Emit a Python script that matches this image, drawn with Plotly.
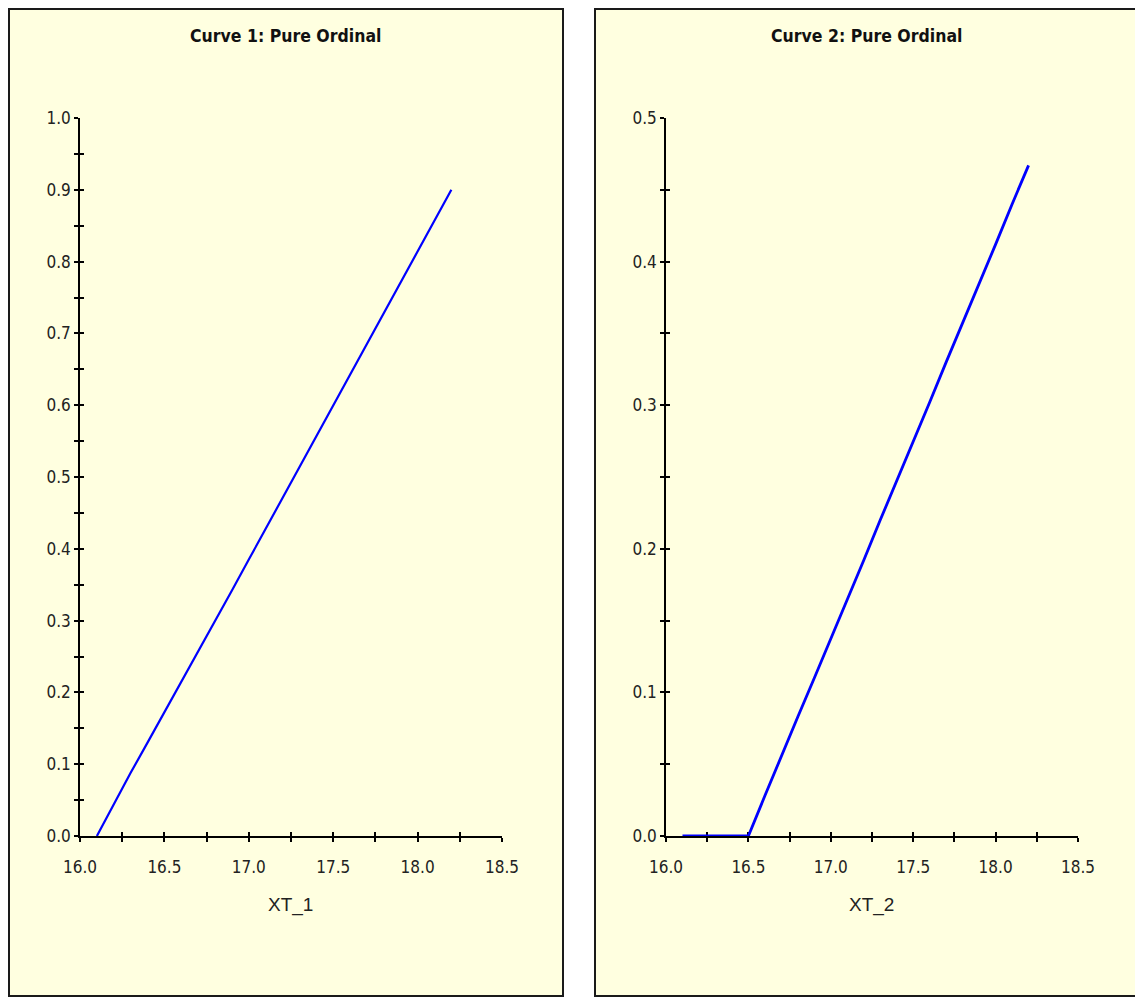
import plotly.graph_objects as go

# ---- data ----
x1 = [16.10, 16.20, 16.30, 16.40, 16.50, 16.60, 16.70, 16.80, 16.90, 17.00, 17.10,
      17.20, 17.30, 17.40, 17.50, 17.60, 17.70, 17.80, 17.90, 18.00, 18.10, 18.20]
y1 = [0.000, 0.045, 0.088, 0.130, 0.172, 0.214, 0.257, 0.299, 0.342, 0.385, 0.428,
      0.470, 0.513, 0.556, 0.599, 0.642, 0.685, 0.728, 0.771, 0.814, 0.857, 0.900]

x2 = [16.10, 16.50, 16.60, 16.70, 16.80, 16.90, 17.00, 17.10, 17.20, 17.30, 17.40,
      17.50, 17.60, 17.70, 17.80, 17.90, 18.00, 18.10, 18.20]
y2 = [0.000, 0.000, 0.028, 0.056, 0.083, 0.110, 0.137, 0.165, 0.192, 0.220, 0.247,
      0.275, 0.302, 0.330, 0.357, 0.385, 0.412, 0.440, 0.467]

titles = ["Curve 1: Pure Ordinal", "Curve 2: Pure Ordinal"]
xtitles = ["XT_1", "XT_2"]
x_range = [16.0, 18.5]
y1_range = [0.0, 1.0]
y2_range = [0.0, 0.5]

# page body margin offsets the figure by 8px
OFF = 8
FW, FH = 1143 - OFF, 999 - OFF
BG = "#FFFFE0"
FONT = "Liberation Sans Narrow, DejaVu Sans Condensed, Liberation Sans, Arial, sans-serif"

def px(x):
    return (x - OFF) / FW

def py(y):
    return (FH - (y - OFF)) / FH

fig = go.Figure()
fig.add_trace(go.Scatter(x=x1, y=y1, mode="lines", line=dict(color="#0000FF", width=2.2),
                         xaxis="x", yaxis="y", showlegend=False, hoverinfo="skip", cliponaxis=False))
fig.add_trace(go.Scatter(x=x2, y=y2, mode="lines", line=dict(color="#0000FF", width=2.8),
                         xaxis="x2", yaxis="y2", showlegend=False, hoverinfo="skip", cliponaxis=False))
# invisible traces on overlay axes (inner halves of crossing ticks)
fig.add_trace(go.Scatter(x=[None], y=[None], xaxis="x3", yaxis="y3", showlegend=False))
fig.add_trace(go.Scatter(x=[None], y=[None], xaxis="x4", yaxis="y4", showlegend=False))

tickfont = dict(family=FONT, size=17, color="#222222")

def main_x(dom, anchor):
    return dict(domain=dom, anchor=anchor, range=x_range, showgrid=False, zeroline=False,
                showline=True, linecolor="#000000", linewidth=1.5, ticks="outside", ticklen=4,
                tickcolor="#000000", tickwidth=1.5, dtick=0.5, tick0=16.0, tickformat=".1f",
                tickfont=tickfont, ticklabelstandoff=11, layer="below traces",
                minor=dict(dtick=0.25, ticks="outside", ticklen=4, tickcolor="#000000", tickwidth=1.5))

def main_y(dom, anchor, rng, dt):
    return dict(domain=dom, anchor=anchor, range=rng, showgrid=False, zeroline=False,
                showline=True, linecolor="#000000", linewidth=1.5, ticks="outside", ticklen=4,
                tickcolor="#000000", tickwidth=1.5, dtick=dt, tick0=0, tickformat=".1f",
                tickfont=tickfont, layer="below traces",
                minor=dict(dtick=dt / 2, ticks="outside", ticklen=4, tickcolor="#000000", tickwidth=1.5))

def over_x(base, anchor):
    return dict(overlaying=base, anchor=anchor, range=x_range, showgrid=False, zeroline=False,
                showline=False, ticks="inside", ticklen=4, tickcolor="#000000", tickwidth=1.5,
                dtick=0.25, tick0=16.0, showticklabels=False, layer="below traces")

def over_y(base, anchor, rng, dt):
    return dict(overlaying=base, anchor=anchor, range=rng, showgrid=False, zeroline=False,
                showline=False, ticks="inside", ticklen=4, tickcolor="#000000", tickwidth=1.5,
                dtick=dt, tick0=0, showticklabels=False, layer="below traces")

ydom = [py(836), py(118)]

def ann(text, x, y, size, family, color):
    return dict(text=text, x=px(x), y=py(y), xref="paper", yref="paper", xanchor="center",
                yanchor="middle", showarrow=False, font=dict(family=family, size=size, color=color))

fig.update_layout(
    width=FW, height=FH,
    margin=dict(l=0, r=0, t=0, b=0, pad=0, autoexpand=False),
    paper_bgcolor="#FFFFFF",
    plot_bgcolor="rgba(0,0,0,0)",
    xaxis=main_x([px(80), px(502)], "y"),
    yaxis=main_y(ydom, "x", y1_range, 0.1),
    xaxis2=main_x([px(666), px(1078)], "y2"),
    yaxis2=main_y(ydom, "x2", y2_range, 0.1),
    xaxis3=over_x("x", "y3"),
    yaxis3=over_y("y", "x3", y1_range, 0.05),
    xaxis4=over_x("x2", "y4"),
    yaxis4=over_y("y2", "x4", y2_range, 0.05),
    shapes=[
        dict(type="rect", xref="paper", yref="paper", x0=px(9), x1=px(563), y0=py(996), y1=py(9),
             fillcolor=BG, line=dict(color="#1a1a1a", width=2), layer="below"),
        dict(type="rect", xref="paper", yref="paper", x0=px(595), x1=px(1139), y0=py(996), y1=py(9),
             fillcolor=BG, line=dict(color="#1a1a1a", width=2), layer="below"),
    ],
    annotations=[
        ann("<b>" + titles[0] + "</b>", 285, 36, 17.5, FONT, "#111111"),
        ann("<b>" + titles[1] + "</b>", 866, 36, 17.5, FONT, "#111111"),
        ann(xtitles[0], 290, 905, 19, "Liberation Sans, Arial, sans-serif", "#222222"),
        ann(xtitles[1], 871, 905, 19, "Liberation Sans, Arial, sans-serif", "#222222"),
    ],
)

fig.write_html("out.html")
